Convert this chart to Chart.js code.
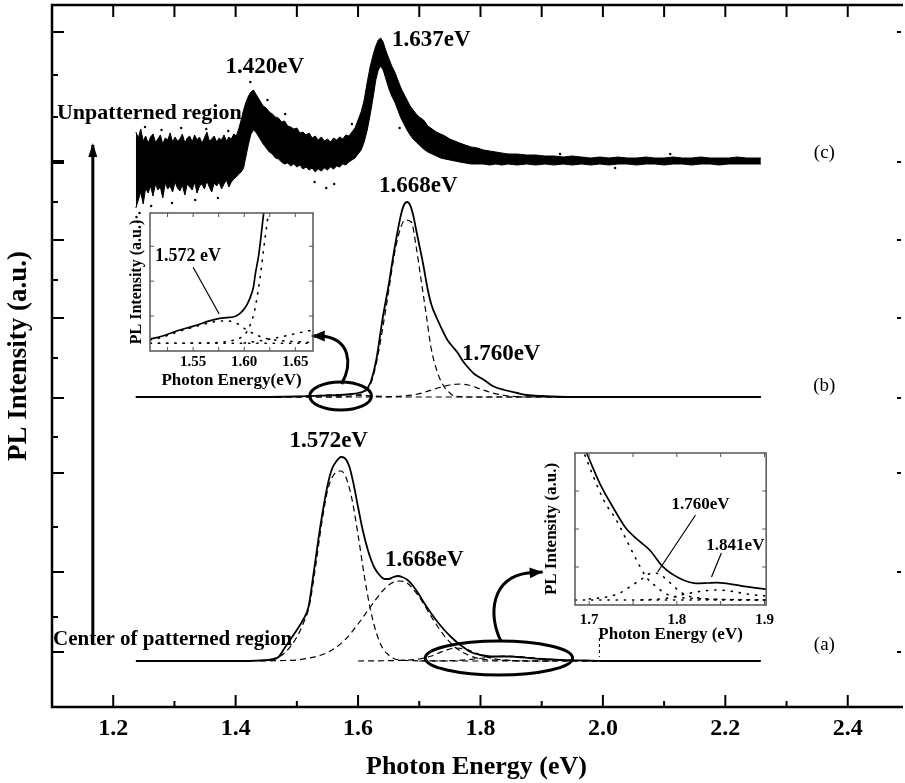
<!DOCTYPE html>
<html><head><meta charset="utf-8">
<script src="https://cdn.jsdelivr.net/npm/chart.js@4.4.1/dist/chart.umd.min.js"></script>
<style>
html,body{margin:0;padding:0;background:#fff;overflow:hidden;width:905px;height:783px;}
#wrap{position:relative;width:905px;height:783px;overflow:hidden;}
canvas{position:absolute;}
</style></head>
<body><div id="wrap">
<canvas id="main" width="905" height="783" style="left:0;top:0;width:905px;height:783px"></canvas>
<canvas id="in1" width="205" height="195" style="left:118px;top:200px;width:205px;height:195px"></canvas>
<canvas id="in2" width="250" height="200" style="left:530px;top:445px;width:250px;height:200px"></canvas>
</div>
<script>
// ---------------- DATA ----------------
// axis ticks (main chart)
const xTickValues = [1.2, 1.4, 1.6, 1.8, 2.0, 2.2, 2.4];
const xMinorTicks = [1.3, 1.5, 1.7, 1.9, 2.1, 2.3];
const xTopTicks = [1.2, 1.3, 1.4, 1.5, 1.6, 1.7, 1.8, 1.9, 2.0, 2.1, 2.2, 2.3, 2.4];
const yMajorTicks = [55, 135, 234, 309, 389, 467, 545, 675];
const yMinorTicks = [90, 180, 270, 349, 427, 505, 590, 632];

// vertical offsets of the stacked spectra (a.u.)
const offsetA = 46, offsetB = 310, offsetC = 545;

// (c) unpatterned region: noisy spectrum, upper / lower envelope of the noise band
const cE = [1.237,1.241,1.245,1.249,1.253,1.257,1.261,1.265,1.269,1.273,1.277,1.281,1.285,1.289,1.293,1.297,1.301,1.305,1.309,1.313,1.317,1.321,1.325,1.329,1.333,1.337,1.341,1.345,1.349,1.353,1.357,1.361,1.365,1.369,1.373,1.377,1.381,1.385,1.389,1.393,1.397,1.401,1.405,
 1.409,1.413,1.417,1.421,1.425,1.429,1.433,1.437,1.441,1.445,
 1.450,1.455,1.460,1.465,1.470,1.475,1.480,1.485,1.490,1.495,1.500,1.505,1.510,1.515,1.520,1.525,1.530,1.535,1.540,1.545,1.550,1.555,1.560,1.565,1.570,1.575,1.580,1.585,1.590,1.595,1.600,
 1.605,1.610,1.615,1.620,1.625,1.629,1.633,1.637,1.641,1.645,1.650,1.655,1.660,1.665,1.670,1.675,1.680,1.685,1.690,1.695,1.700,
 1.707,1.714,1.721,1.728,1.735,1.742,1.750,1.758,1.766,1.775,1.785,1.795,1.805,1.815,1.825,1.835,1.845,1.86,1.875,1.89,1.905,1.92,1.935,1.95,1.965,1.98,1.995,2.01,2.025,2.04,2.055,2.07,2.085,2.10,2.115,2.13,2.145,2.16,2.175,2.19,2.205,2.22,2.235,2.25,2.258];
const cHigh = [30,24,33,21,26,19,25,28,20,23,27,18,24,22,29,20,25,21,23,28,19,24,26,20,27,22,25,19,24,30,21,23,26,20,24,22,27,21,25,23,28,26,33,
 42,52,60,66,70,72,68,64,60,56,
 54,50,48,45,44,40,41,36,35,33,34,29,30,27,29,24,26,22,25,21,23,20,24,22,25,23,27,26,30,34,42,
 50,62,80,96,108,116,122,124,120,112,104,96,90,82,74,68,62,56,52,48,45,
 42,36,33,30,28,26,23,21,19,17,15,14,12,11,10,9,8,8,7,7,6,6,5,6,5,4,5,4,5,4,4,5,4,4,5,4,4,5,4,4,4,5,4,4,4];
const cLow = [-46,-38,-30,-42,-26,-31,-24,-34,-22,-28,-25,-36,-21,-27,-24,-30,-20,-26,-29,-23,-33,-22,-25,-28,-20,-31,-24,-22,-27,-19,-25,-30,-21,-24,-20,-27,-22,-18,-25,-20,-17,-15,-12,
 -10,-6,6,18,28,32,30,26,22,18,
 14,10,8,4,3,0,-2,-1,-4,-2,-5,-3,-7,-5,-8,-6,-10,-7,-9,-6,-8,-5,-7,-4,-5,-2,-3,0,2,4,8,
 12,20,32,48,66,82,92,96,92,84,74,66,60,52,44,38,32,27,23,20,17,
 13,10,8,6,4,3,2,1,0,-1,-2,-2,-2,-3,-2,-3,-2,-3,-2,-3,-2,-3,-2,-3,-2,-3,-2,-3,-2,-2,-3,-2,-2,-3,-2,-2,-3,-2,-2,-3,-2,-2,-2,-2,-2];
// isolated noise points outside the dense band
const cOutE = [1.238,1.240,1.243,1.252,1.262,1.279,1.296,1.311,1.334,1.352,1.371,1.388,1.424,1.452,1.481,1.529,1.548,1.561,1.590,1.668,1.93,2.02,2.11];
const cOutI = [-55,-60,-51,35,-44,32,-41,34,-38,33,-36,31,80,62,48,-20,-26,-22,38,34,8,-6,8];

// (b) spectrum and fitted components
const bSolidE = [1.237,1.40,1.50,1.55,1.57,1.59,1.60,1.61,1.62,1.63,1.64,1.65,1.66,1.67,1.675,1.68,1.685,1.69,1.695,1.70,1.706,1.714,1.72,1.73,1.74,1.746,1.755,1.763,1.77,1.779,1.79,1.806,1.82,1.839,1.86,1.876,1.90,1.95,2.10,2.258];
const bSolidI = [0,0,0.5,1.5,2,3,4,6,14,38,78,112,150,182,192,195,192,182,167,152,134,107,92,77,64,57,50,44,37,30,23,17,11,7,4,2,1,0,0,0];
const b1668E = [1.237,1.55,1.60,1.61,1.62,1.63,1.64,1.65,1.66,1.67,1.677,1.687,1.695,1.703,1.711,1.719,1.73,1.741,1.75,1.757,1.78,1.90,2.10,2.258];
const b1668I = [0,0,2,5,12,34,68,106,145,170,177,175,150,117,84,50,24,10,4,1,0,0,0,0];
const b1760E = [1.237,1.60,1.66,1.69,1.71,1.73,1.75,1.767,1.78,1.80,1.82,1.84,1.87,2.0,2.258];
const b1760I = [0,0,0.5,2,5,9,12,13,12,8,4,1.5,0,0,0];
const b1572E = [1.237,1.45,1.50,1.55,1.58,1.61,1.64,1.67,1.75,2.258];
const b1572I = [0,0,0.5,2,2.5,1.5,0.5,0,0,0];

// (a) spectrum and fitted components
const aSolidE = [1.237,1.30,1.40,1.44,1.46,1.47,1.48,1.49,1.50,1.51,1.519,1.527,1.535,1.543,1.551,1.558,1.565,1.572,1.578,1.586,1.593,1.600,1.608,1.616,1.622,1.627,1.635,1.643,1.650,1.658,1.665,1.672,1.681,1.690,1.698,1.708,1.719,1.730,1.741,1.752,1.763,1.774,1.784,1.800,1.817,1.830,1.845,1.860,1.880,1.900,1.930,1.970,2.000,2.100,2.200,2.258];
const aSolidI = [0,0,0,0.5,1.5,4,13,22,31,41,54,86,121,152,178,193,200,204,203,194,176,154,130,111,100,93,86,82,82,84,85,84,81,75,68,58,48,39,31,24,18,13,9,6,4.5,4.5,4.5,4,3,2,1,0.5,0,0,0,0];
const a1572E = [1.44,1.46,1.48,1.50,1.51,1.52,1.53,1.54,1.55,1.56,1.572,1.58,1.59,1.60,1.61,1.62,1.63,1.64,1.65,1.66,1.68,1.75,1.90,2.10,2.258];
const a1572I = [0.5,2,8,24,37,54,92,135,170,186,190,184,162,126,86,52,28,13,6,2,0.5,0,0,0,0];
const a1668E = [1.44,1.48,1.50,1.52,1.54,1.56,1.58,1.60,1.62,1.64,1.655,1.668,1.68,1.70,1.72,1.74,1.76,1.78,1.80,1.82,1.85,1.90,2.0];
const a1668I = [0,0.5,1,3,6,12,22,37,54,70,78,80,78,64,44,26,13,6,2,1,0.5,0,0];
const a1760E = [1.60,1.66,1.70,1.72,1.74,1.76,1.78,1.80,1.82,1.84,1.87,1.92];
const a1760I = [0,0.5,2,5,10,13,11,6,2.5,1,0,0];
const a1841E = [1.70,1.76,1.79,1.82,1.841,1.86,1.89,1.92,1.96,2.00,2.05];
const a1841I = [0,0.5,2,4,5,4.5,3,1.5,0.5,0,0];

// inset 1 (zoom of (b) near 1.572 eV)
const in1Ticks = [1.55, 1.60, 1.65];
const in1SolidE = [1.508,1.52,1.537,1.554,1.565,1.576,1.583,1.590,1.595,1.599,1.603,1.606,1.609,1.611,1.614,1.616,1.619,1.622];
const in1SolidI = [12,15,21,26,30,32.7,33.5,34.3,37,41,47,54,64,78,95,111,138,160];
const in1C1572E = [1.508,1.52,1.537,1.554,1.565,1.576,1.585,1.594,1.601,1.612,1.624,1.641,1.657,1.667];
const in1C1572I = [11,14,20,25,28,30,30,27,22,16,12,10,9,8.5];
const in1C1668E = [1.508,1.56,1.58,1.59,1.60,1.605,1.61,1.615,1.62,1.624,1.627];
const in1C1668I = [7.7,8,9,11,16,24,40,70,110,140,160];
const in1C1760E = [1.60,1.62,1.64,1.657,1.667];
const in1C1760I = [8,11,15,19,21];
const in1BaseE = [1.508,1.667];
const in1BaseI = [7.7,7.7];

// inset 2 (zoom of (a) near 1.76-1.84 eV)
const in2Ticks = [1.7, 1.8, 1.9];
const in2SolidE = [1.693,1.699,1.712,1.727,1.742,1.758,1.769,1.784,1.803,1.822,1.835,1.845,1.856,1.879,1.902];
const in2SolidI = [160,148,121.7,98,76.7,63.3,55,38.3,26.7,21.7,22,22.3,21.7,18.3,15.7];
const in2C1668E = [1.695,1.705,1.717,1.731,1.7425,1.754,1.765,1.777,1.788,1.80,1.83,1.86,1.902];
const in2C1668I = [150,128,104,85,65,45,28,18,11,8,6,5.5,5];
const in2C1760E = [1.70,1.72,1.735,1.746,1.76,1.772,1.78,1.79,1.80,1.81,1.825,1.85,1.902];
const in2C1760I = [6,8,12,18,26,32,31,24,16,10,7,5.5,5];
const in2C1841E = [1.76,1.79,1.81,1.83,1.845,1.86,1.88,1.902];
const in2C1841I = [5,7,11,14,15,14,11,9];
const in2BaseE = [1.684,1.902];
const in2BaseI = [5,5];

// ---------------- RENDER ----------------
Chart.defaults.font.family = '"Liberation Serif", "Times New Roman", serif';
Chart.defaults.color = '#000';

function pts(E, I, off) { return E.map((e, i) => ({x: e, y: I[i] + (off || 0)})); }

const solid = {borderColor:'#000', borderWidth:1.8, pointRadius:0, fill:false, cubicInterpolationMode:'monotone'};
const dashed = {borderColor:'#000', borderWidth:1.2, borderDash:[6,4], pointRadius:0, fill:false, cubicInterpolationMode:'monotone'};
const dotted = {borderColor:'#000', borderWidth:1.6, borderDash:[1.2,7], borderCapStyle:'round', pointRadius:0, fill:false, cubicInterpolationMode:'monotone'};

const frameTicks = {
  id: 'frameTicks',
  afterDatasetsDraw(chart, args, o) {
    const {ctx, chartArea: a, scales: {x, y}} = chart;
    ctx.save();
    ctx.strokeStyle = o.color; ctx.lineWidth = o.width;
    ctx.beginPath();
    if (o.openRight) {
      ctx.moveTo(a.right + 2, a.top); ctx.lineTo(a.left, a.top); ctx.lineTo(a.left, a.bottom); ctx.lineTo(a.right + 2, a.bottom);
    } else {
      ctx.rect(a.left, a.top, a.right - a.left, a.bottom - a.top);
    }
    ctx.stroke();
    for (const t of o.ticks) {
      ctx.lineWidth = t.width || o.tickWidth;
      for (const v of t.values) {
        ctx.beginPath();
        if (t.side === 'bottom') { const p = x.getPixelForValue(v); ctx.moveTo(p, a.bottom); ctx.lineTo(p, a.bottom - t.len); }
        else if (t.side === 'top') { const p = x.getPixelForValue(v); ctx.moveTo(p, a.top); ctx.lineTo(p, a.top + t.len); }
        else if (t.side === 'left') { const p = y.getPixelForValue(v); ctx.moveTo(a.left, p); ctx.lineTo(a.left + t.len, p); }
        else { const p = y.getPixelForValue(v); ctx.moveTo(a.right, p); ctx.lineTo(a.right - t.len, p); }
        ctx.stroke();
      }
    }
    ctx.restore();
  }
};

function head(ctx, fx, fy, tx, ty, len, wid) {
  const ang = Math.atan2(ty - fy, tx - fx);
  ctx.beginPath();
  ctx.moveTo(tx, ty);
  ctx.lineTo(tx - len * Math.cos(ang) + wid / 2 * Math.sin(ang), ty - len * Math.sin(ang) - wid / 2 * Math.cos(ang));
  ctx.lineTo(tx - len * Math.cos(ang) - wid / 2 * Math.sin(ang), ty - len * Math.sin(ang) + wid / 2 * Math.cos(ang));
  ctx.closePath(); ctx.fill();
}

const annot = {
  id: 'annot',
  afterDraw(chart, args, o) {
    const {ctx, scales: {x, y}} = chart;
    const X = v => x.getPixelForValue(v), Y = v => y.getPixelForValue(v);
    ctx.save();
    ctx.fillStyle = '#000'; ctx.strokeStyle = '#000';
    for (const l of (o.lines || [])) {
      ctx.lineWidth = l.width; ctx.setLineDash(l.dash || []);
      ctx.beginPath(); ctx.moveTo(X(l.p[0][0]), Y(l.p[0][1])); ctx.lineTo(X(l.p[1][0]), Y(l.p[1][1])); ctx.stroke();
    }
    ctx.setLineDash([]);
    for (const e of (o.ellipses || [])) {
      ctx.lineWidth = e.width;
      ctx.beginPath();
      ctx.ellipse(X(e.cx), Y(e.cy), X(e.cx + e.rx) - X(e.cx), Y(e.cy) - Y(e.cy + e.ry), 0, 0, Math.PI * 2);
      ctx.stroke();
    }
    for (const c of (o.curves || [])) {
      ctx.lineWidth = c.width;
      ctx.beginPath();
      ctx.moveTo(X(c.p0[0]), Y(c.p0[1]));
      ctx.bezierCurveTo(X(c.c1[0]), Y(c.c1[1]), X(c.c2[0]), Y(c.c2[1]), X(c.p1[0]), Y(c.p1[1]));
      ctx.lineTo(X(c.tip[0]) , Y(c.tip[1]));
      ctx.stroke();
      head(ctx, X(c.p1[0]), Y(c.p1[1]), X(c.tip[0]), Y(c.tip[1]), 13, 11);
    }
    for (const a of (o.arrows || [])) {
      ctx.lineWidth = a.width;
      ctx.beginPath(); ctx.moveTo(X(a.from[0]), Y(a.from[1])); ctx.lineTo(X(a.to[0]), Y(a.to[1])); ctx.stroke();
      head(ctx, X(a.from[0]), Y(a.from[1]), X(a.to[0]), Y(a.to[1]) - 2, 14, 9);
    }
    ctx.textBaseline = 'middle';
    for (const t of (o.texts || [])) {
      ctx.font = t.font; ctx.textAlign = t.align || 'center';
      ctx.fillText(t.text, X(t.x), Y(t.y));
    }
    ctx.restore();
  }
};

const bold = s => 'bold ' + s + 'px "Liberation Serif", "Times New Roman", serif';
const reg = s => s + 'px "Liberation Serif", "Times New Roman", serif';

new Chart(document.getElementById('main'), {
  type: 'line',
  data: { datasets: [
    {data: pts(cE, cHigh, offsetC), borderColor:'#000', borderWidth:1, backgroundColor:'#000', fill:'+1', pointRadius:0, tension:0},
    {data: pts(cE, cLow, offsetC), borderColor:'#000', borderWidth:1, pointRadius:0, fill:false, tension:0},
    {data: pts(cOutE, cOutI, offsetC), showLine:false, pointRadius:1.2, pointBackgroundColor:'#000', pointBorderWidth:0},
    Object.assign({data: pts(bSolidE, bSolidI, offsetB)}, solid),
    Object.assign({data: pts(b1668E, b1668I, offsetB)}, dashed),
    Object.assign({data: pts(b1760E, b1760I, offsetB)}, dashed),
    Object.assign({data: pts(b1572E, b1572I, offsetB)}, dashed),
    Object.assign({data: pts(aSolidE, aSolidI, offsetA)}, solid),
    Object.assign({data: pts(a1572E, a1572I, offsetA)}, dashed),
    Object.assign({data: pts(a1668E, a1668I, offsetA)}, dashed),
    Object.assign({data: pts(a1760E, a1760I, offsetA)}, dashed),
    Object.assign({data: pts(a1841E, a1841I, offsetA)}, dashed)
  ]},
  options: {
    responsive: false, animation: false, events: [],
    layout: {padding: {top: 5, right: 0, left: 0, bottom: 0}},
    plugins: {
      legend: {display: false}, tooltip: {enabled: false},
      frameTicks: {color: '#000', width: 2.5, tickWidth: 2, openRight: true, ticks: [
        {side: 'bottom', values: xTickValues, len: 12},
        {side: 'bottom', values: xMinorTicks, len: 6},
        {side: 'top', values: xTopTicks, len: 12},
        {side: 'left', values: yMajorTicks, len: 12},
        {side: 'left', values: yMinorTicks, len: 6},
        {side: 'right', values: yMajorTicks, len: 4},
        {side: 'left', values: [545], len: 12, width: 4}
      ]},
      annot: {
        texts: [
          {text: '1.420eV', x: 1.4477, y: 639.5, font: bold(23)},
          {text: '1.637eV', x: 1.7195, y: 667, font: bold(23)},
          {text: '1.668eV', x: 1.6984, y: 520.5, font: bold(23)},
          {text: '1.760eV', x: 1.8338, y: 353, font: bold(23)},
          {text: '1.572eV', x: 1.552, y: 266, font: bold(23)},
          {text: '1.668eV', x: 1.7081, y: 146.5, font: bold(23)},
          {text: 'Unpatterned region', x: 1.1081, y: 594, font: bold(22), align: 'left'},
          {text: 'Center of patterned region', x: 1.1016, y: 67, font: bold(21), align: 'left'},
          {text: '(c)', x: 2.3618, y: 554, font: reg(19)},
          {text: '(b)', x: 2.3618, y: 321, font: reg(19)},
          {text: '(a)', x: 2.3618, y: 62, font: reg(19)}
        ],
        lines: [
          {p: [[1.9943, 69], [1.9943, 50]], width: 1, dash: [3, 3]}
        ],
        ellipses: [
          {cx: 1.5715, cy: 311, rx: 0.0504, ry: 14, width: 3},
          {cx: 1.8301, cy: 49, rx: 0.1203, ry: 17, width: 3}
        ],
        curves: [
          {p0: [1.5732, 323], c1: [1.5911, 343], c2: [1.5878, 369], p1: [1.5390, 371], tip: [1.5244, 371], width: 3},
          {p0: [1.8333, 66], c1: [1.8122, 92], c2: [1.8171, 129], p1: [1.8772, 134], tip: [1.9016, 135], width: 3}
        ],
        arrows: [
          {from: [1.1667, 62], to: [1.1667, 562], width: 3}
        ]
      }
    },
    scales: {
      x: {
        type: 'linear', min: 1.1, max: 2.487,
        grid: {display: false, drawTicks: false}, border: {display: false},
        afterBuildTicks: s => { s.ticks = xTickValues.map(v => ({value: v})); },
        afterFit: s => { s.height = 76; },
        ticks: {font: {size: 24, weight: 'bold'}, padding: 7, maxRotation: 0, autoSkip: false, callback: v => v.toFixed(1)},
        title: {display: true, text: 'Photon Energy (eV)', font: {size: 26, weight: 'bold'}, padding: {top: 0, bottom: 0}}
      },
      y: {
        type: 'linear', min: 0, max: 702,
        grid: {display: false, drawTicks: false}, border: {display: false},
        ticks: {display: false},
        afterFit: s => { s.width = 52; },
        title: {display: true, text: 'PL Intensity (a.u.)', font: {size: 27, weight: 'bold'}, padding: {top: 3, bottom: 0}}
      }
    }
  },
  plugins: [frameTicks, annot]
});

function inset(id, cfg) {
  return new Chart(document.getElementById(id), {
    type: 'line',
    data: {datasets: cfg.datasets},
    options: {
      responsive: false, animation: false, events: [],
      layout: {padding: cfg.padding},
      plugins: {
        legend: {display: false}, tooltip: {enabled: false},
        frameTicks: {color: '#555', width: 1.5, tickWidth: 1, ticks: cfg.ticks},
        annot: cfg.annot
      },
      scales: {
        x: {
          type: 'linear', min: cfg.xmin, max: cfg.xmax,
          grid: {display: false, drawTicks: false}, border: {display: false},
          afterBuildTicks: s => { s.ticks = cfg.xticks.map(v => ({value: v})); },
          afterFit: s => { s.height = cfg.xh; },
          ticks: {font: {size: 15, weight: 'bold'}, padding: cfg.tickPad, maxRotation: 0, autoSkip: false, callback: cfg.fmt},
          title: {display: true, text: cfg.xtitle, font: {size: 17, weight: 'bold'}, padding: {top: 0, bottom: cfg.titlePad}}
        },
        y: {
          type: 'linear', min: 0, max: cfg.ymax,
          grid: {display: false, drawTicks: false}, border: {display: false},
          ticks: {display: false},
          afterFit: s => { s.width = cfg.yw; },
          title: {display: true, text: 'PL Intensity (a.u.)', font: {size: cfg.ytSize, weight: 'bold'}, padding: {top: cfg.ytPad, bottom: 0}}
        }
      }
    },
    plugins: [frameTicks, annot]
  });
}

const iSolid = {borderColor:'#000', borderWidth:1.7, pointRadius:0, fill:false, cubicInterpolationMode:'monotone'};

inset('in1', {
  datasets: [
    Object.assign({data: pts(in1SolidE, in1SolidI)}, iSolid),
    Object.assign({data: pts(in1C1572E, in1C1572I)}, dotted),
    Object.assign({data: pts(in1C1668E, in1C1668I)}, dotted),
    Object.assign({data: pts(in1C1760E, in1C1760I)}, dotted),
    Object.assign({data: pts(in1BaseE, in1BaseI)}, dotted)
  ],
  padding: {top: 13, right: 10, left: 0, bottom: 0},
  xmin: 1.5078, xmax: 1.6673, ymax: 138.3, xticks: in1Ticks, fmt: v => v.toFixed(2),
  xh: 44, yw: 32, tickPad: 2, titlePad: 4, ytPad: 9, ytSize: 16,
  xtitle: 'Photon Energy(eV)',
  ticks: [
    {side: 'bottom', values: [1.525, 1.55, 1.575, 1.60, 1.625, 1.65], len: 4},
    {side: 'top', values: [1.525, 1.55, 1.575, 1.60, 1.625, 1.65], len: 4},
    {side: 'left', values: [35, 70, 105], len: 4},
    {side: 'right', values: [35, 70, 105], len: 4}
  ],
  annot: {
    texts: [{text: '1.572 eV', x: 1.5451, y: 95, font: bold(18)}],
    lines: [{p: [[1.5500, 84], [1.5755, 37]], width: 1.2}]
  }
});

inset('in2', {
  datasets: [
    Object.assign({data: pts(in2SolidE, in2SolidI)}, iSolid),
    Object.assign({data: pts(in2C1668E, in2C1668I)}, dotted),
    Object.assign({data: pts(in2C1760E, in2C1760I)}, dotted),
    Object.assign({data: pts(in2C1841E, in2C1841I)}, dotted),
    Object.assign({data: pts(in2BaseE, in2BaseI)}, dotted)
  ],
  padding: {top: 8, right: 13, left: 0, bottom: 0},
  xmin: 1.6838, xmax: 1.9019, ymax: 152, xticks: in2Ticks, fmt: v => v.toFixed(1),
  xh: 40, yw: 45, tickPad: 6, titlePad: 0, ytPad: 11, ytSize: 17,
  xtitle: 'Photon Energy (eV)',
  ticks: [
    {side: 'bottom', values: [1.7, 1.75, 1.8, 1.85, 1.9], len: 4},
    {side: 'top', values: [1.7, 1.75, 1.8, 1.85, 1.9], len: 4},
    {side: 'left', values: [38, 76, 114], len: 4},
    {side: 'right', values: [38, 76, 114], len: 4}
  ],
  annot: {
    texts: [
      {text: '1.760eV', x: 1.8270, y: 100, font: bold(17)},
      {text: '1.841eV', x: 1.8668, y: 59, font: bold(17)}
    ],
    lines: [
      {p: [[1.8213, 90], [1.7781, 33]], width: 1.2},
      {p: [[1.8508, 52], [1.8395, 28]], width: 1.2}
    ]
  }
});
</script></body></html>
